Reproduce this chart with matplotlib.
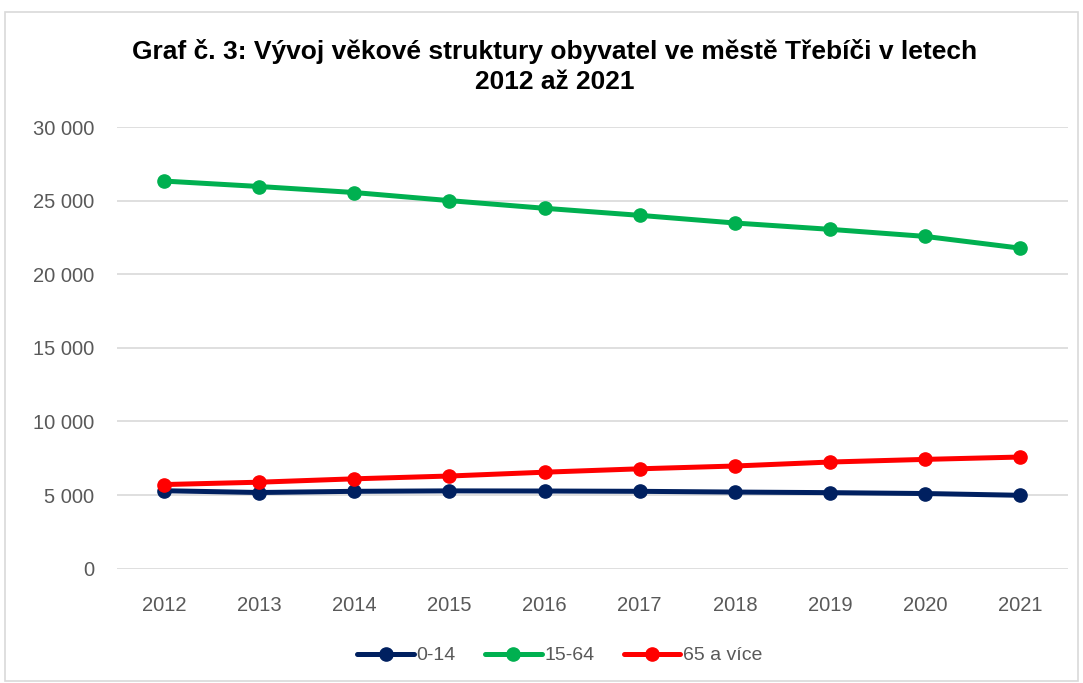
import matplotlib.pyplot as plt
from matplotlib.patches import Rectangle
from matplotlib.ticker import FuncFormatter

roky = [2012, 2013, 2014, 2015, 2016, 2017, 2018, 2019, 2020, 2021]
deti = [5290, 5170, 5250, 5280, 5270, 5250, 5200, 5160, 5100, 4980]
produktivni = [26330, 25960, 25550, 25000, 24480, 24000, 23480, 23050, 22570, 21770]
seniori = [5710, 5870, 6100, 6290, 6550, 6780, 6970, 7240, 7420, 7580]
popisky = ["0-14", "15-64", "65 a více"]
barvy = ["#002060", "#00b050", "#ff0000"]

plt.rcParams['font.family'] = ['Liberation Sans', 'DejaVu Sans']

fig = plt.figure(figsize=(10.83, 6.83), dpi=100)
fig.patches.append(Rectangle((0.005, 0.003), 0.99, 0.979, transform=fig.transFigure,
                             fill=False, edgecolor="#d9d9d9", linewidth=1.2))
ax = fig.add_axes([0.1076, 0.1675, 0.8784, 0.6465])

x = list(range(len(roky)))
for hodnoty, popisek, barva in zip([deti, produktivni, seniori], popisky, barvy):
    ax.plot(x, hodnoty, color=barva, linewidth=3.6, marker="o", markersize=9.5,
            label=popisek, solid_capstyle="round")

ax.set_xlim(-0.5, len(roky) - 0.5)
ax.set_ylim(0, 30000)
ax.set_yticks(range(0, 30001, 5000))
ax.yaxis.set_major_formatter(FuncFormatter(lambda v, p: f"{int(v):,}".replace(",", " ")))
ax.set_xticks(x)
ax.set_xticklabels([str(r) for r in roky])
ax.grid(axis="y", color="#d9d9d9", linewidth=1.2)
ax.set_axisbelow(True)
for s in ax.spines.values():
    s.set_visible(False)
ax.tick_params(length=0, labelsize=14.5, labelcolor="#595959")
ax.tick_params(axis="x", pad=20)
ax.tick_params(axis="y", pad=16)

fig.text(0.512, 0.903, "Graf č. 3: Vývoj věkové struktury obyvatel ve městě Třebíči v letech\n2012 až 2021",
         ha="center", va="center", fontsize=19, fontweight="bold", linespacing=1.3)

fig.legend(loc="center", bbox_to_anchor=(0.517, 0.04), ncol=3, frameon=False,
           fontsize=14, labelcolor="#595959", handlelength=2.9, handletextpad=0.15,
           columnspacing=1.5)

fig.savefig("out.png", dpi=100)
